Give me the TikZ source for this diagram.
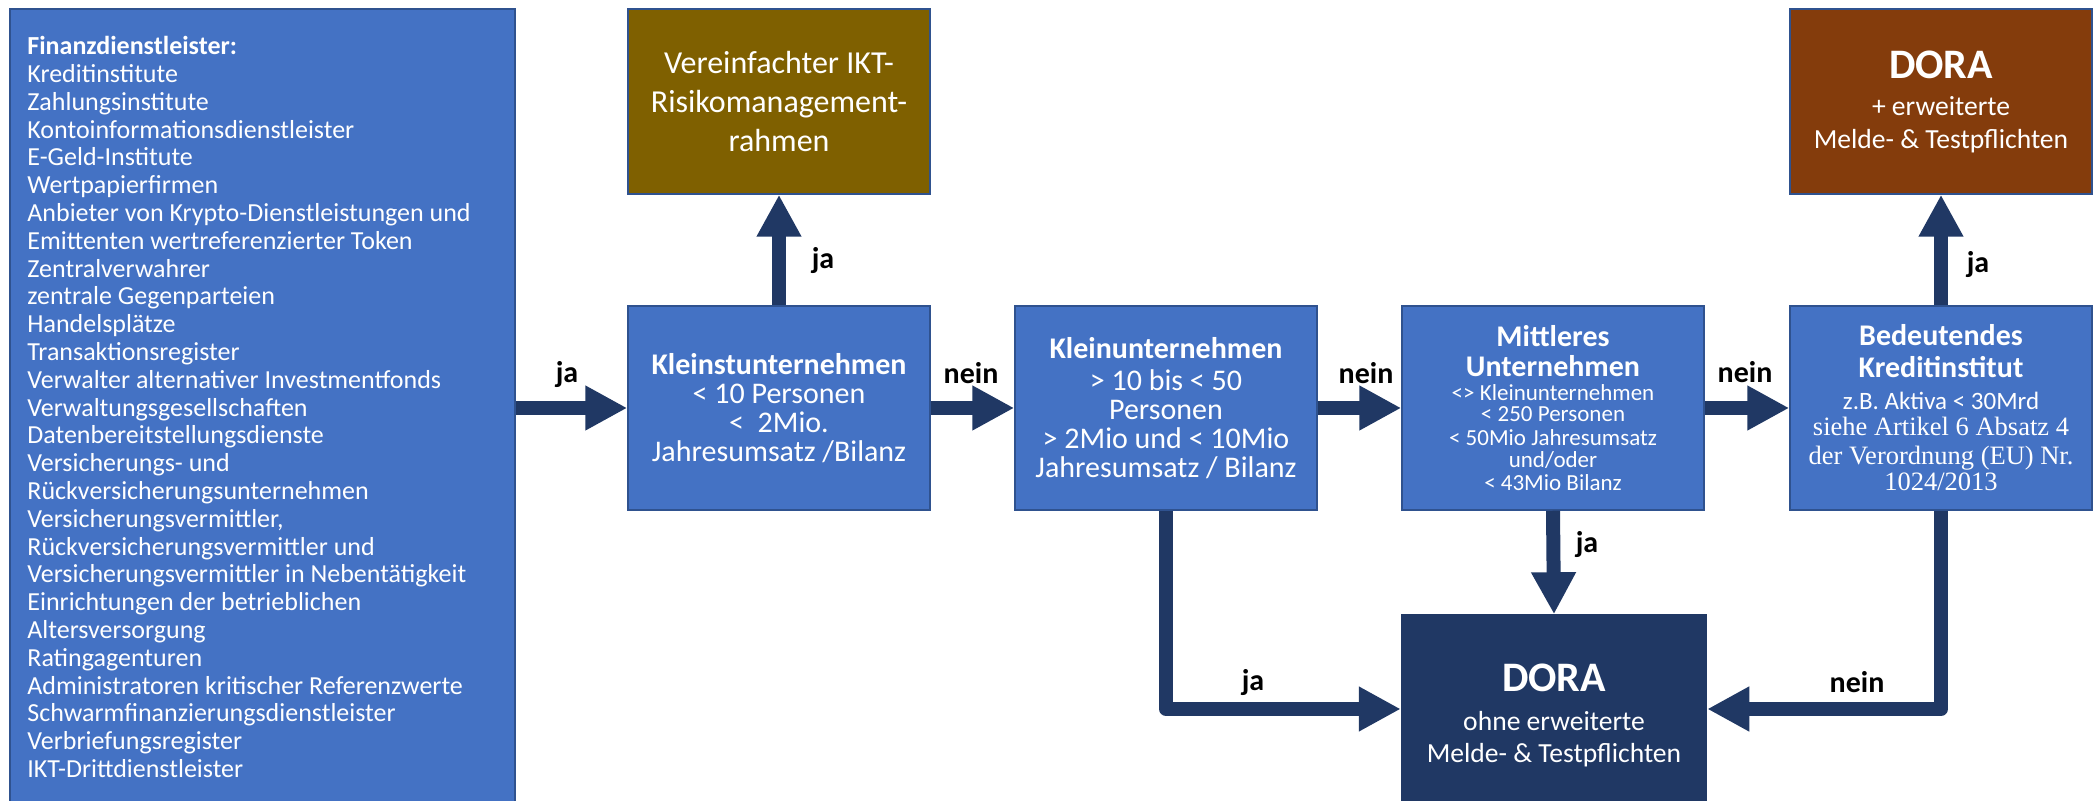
\documentclass[tikz,border=0pt]{standalone}
\usepackage{fontspec}
\setmainfont{Carlito}
\newfontfamily\cambriaalt{Liberation Serif}
\usetikzlibrary{arrows.meta}
\definecolor{boxblue}{HTML}{4472C4}
\definecolor{boxborder}{HTML}{2F528F}
\definecolor{goldbox}{HTML}{7F6000}
\definecolor{brownbox}{HTML}{843C0C}
\definecolor{navy}{HTML}{203864}
\newcommand\fsz[2]{\fontsize{#1}{#2}\selectfont\lineskiplimit=-100pt\relax}
\begin{document}
\begin{tikzpicture}[x=0.5pt,y=-0.5pt,
  box/.style={draw=boxborder, line width=0.75pt, fill=boxblue, text=white, align=center,
    inner sep=0pt, minimum width=151pt, minimum height=102pt},
  topbox/.style={box, minimum height=92.5pt},
  blockarrow/.style={draw=navy, line width=7pt, line join=round,
    -{Triangle[length=21pt,width=21pt]}},
  lbl/.style={font=\bfseries\fsz{15}{15}, anchor=base, inner sep=0pt, text=black}]
\useasboundingbox (0,0) rectangle (2100,801);
\clip (0,0) rectangle (2100,801);
\fill[white] (0,0) rectangle (2100,801);

% left list box
\node[box, minimum width=252.5pt, minimum height=410.5pt] (leftbox) at (262.5,419.5) {};
\node[anchor=north west, inner sep=0pt, align=left, text=white, font=\fsz{13}{13.9}] (lefttext) at (27,36)
 {\textbf{Finanzdienstleister:}\\
  Kreditinstitute\\
  Zahlungsinstitute\\
  Kontoinformationsdienstleister\\
  E-Geld-Institute\\
  Wertpapierfirmen\\
  Anbieter von Krypto-Dienstleistungen und\\
  Emittenten wertreferenzierter Token\\
  Zentralverwahrer\\
  zentrale Gegenparteien\\
  Handelsplätze\\
  Transaktionsregister\\
  Verwalter alternativer Investmentfonds\\
  Verwaltungsgesellschaften\\
  Datenbereitstellungsdienste\\
  Versicherungs- und\\
  Rückversicherungsunternehmen\\
  Versicherungsvermittler,\\
  Rückversicherungsvermittler und\\
  Versicherungsvermittler in Nebentätigkeit\\
  Einrichtungen der betrieblichen\\
  Altersversorgung\\
  Ratingagenturen\\
  Administratoren kritischer Referenzwerte\\
  Schwarmfinanzierungsdienstleister\\
  Verbriefungsregister\\
  IKT-Drittdienstleister};

% top boxes
\node[topbox, fill=goldbox, font=\fsz{16}{19.5}] (vereinf) at (779,101.5)
 {Vereinfachter IKT-\\Risikomanagement-\\rahmen};
\node[topbox, fill=brownbox, font=\fsz{13.8}{16.5}] (dorab) at (1941,101.5)
 {{\bfseries\fsz{21}{21}DORA}\\[2pt]+ erweiterte\\Melde- \& Testpflichten};

% middle row
\node[box, font=\fsz{15}{14.5}] (kleinst) at (779,408)
 {{\bfseries\fsz{15}{15}Kleinstunternehmen}\\
  < 10 Personen\\
  < \ 2Mio.\\
  Jahresumsatz /Bilanz};
\node[box, font=\fsz{15}{14.5}] (klein) at (1166,408)
 {{\bfseries\fsz{15}{15}Kleinunternehmen}\\[1.5pt]
  > 10 bis < 50\\
  Personen\\
  > 2Mio und < 10Mio\\
  Jahresumsatz / Bilanz};
\node[box, font=\fsz{11.5}{11.25}] (mittel) at (1553,408)
 {{\bfseries\fsz{15}{15}Mittleres}\\[3.75pt]
  {\bfseries\fsz{15}{15}Unternehmen}\\[0.75pt]
  <> Kleinunternehmen\\[-0.75pt]
  < 250 Personen\\[0.75pt]
  < 50Mio Jahresumsatz\\
  und/oder\\
  < 43Mio Bilanz};
\node[box, font=\fsz{12.5}{13.5}] (bedeut) at (1941,408)
 {{\bfseries\fsz{15}{15}Bedeutendes}\\[2.5pt]
  {\bfseries\fsz{15}{15}Kreditinstitut}\\[2.5pt]
  z.B. Aktiva < 30Mrd\\[-0.5pt]
  {\cambriaalt\fsz{13.25}{13.5}siehe Artikel 6 Absatz 4}\\[1pt]
  {\cambriaalt\fsz{13.25}{13.5}der Verordnung (EU) Nr.}\\[-0.5pt]
  {\cambriaalt\fsz{13.25}{13.5}1024/2013}};

% bottom box
\node[box, fill=navy, draw=navy, minimum width=152.5pt, minimum height=100pt, font=\fsz{13.8}{16}] (dorad) at (1554,715)
 {{\bfseries\fsz{21}{21}DORA}\\[3.5pt]ohne erweiterte\\Melde- \& Testpflichten};

% arrows
\draw[blockarrow] (leftbox.east |- kleinst.west) -- (kleinst.west);
\draw[blockarrow] (kleinst.north) -- (vereinf.south);
\draw[blockarrow] (kleinst.east) -- (klein.west);
\draw[blockarrow] (klein.east) -- (mittel.west);
\draw[blockarrow] (mittel.east) -- (bedeut.west);
\draw[blockarrow] (bedeut.north) -- (dorab.south);
\draw[blockarrow] (mittel.south) -- (dorad.north);
\draw[blockarrow] (klein.south) |- ([yshift=3pt]dorad.west);
\draw[blockarrow] (bedeut.south) |- ([yshift=3pt]dorad.east);

% labels
\node[lbl] (l1) at (567,383) {ja};
\node[lbl] (l2) at (823,269) {ja};
\node[lbl] (l3) at (971,384) {nein};
\node[lbl] (l4) at (1366,384) {nein};
\node[lbl] (l5) at (1745,383) {nein};
\node[lbl] (l6) at (1978,273) {ja};
\node[lbl] (l7) at (1587,553) {ja};
\node[lbl] (l8) at (1253,690) {ja};
\node[lbl] (l9) at (1857,693) {nein};
\end{tikzpicture}
\end{document}
